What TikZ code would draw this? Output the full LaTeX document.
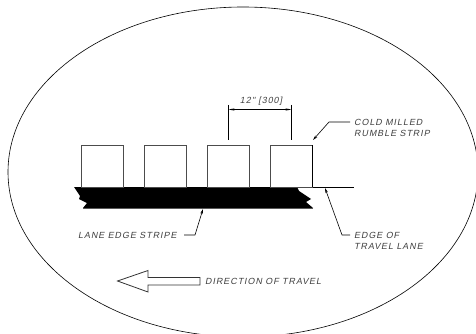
\documentclass[tikz,border=0pt]{standalone}
\usepackage{fontspec}
\newfontfamily\cadfont[FakeSlant=0.2,LetterSpace=11]{Liberation Sans}
\usetikzlibrary{arrows.meta}
\tikzset{
  line/.style={draw=black,line width=0.6pt},
  strip/.style={draw=black!70,line width=0.8pt,fill=white},
  lab/.style={font=\cadfont\fontsize{8.9}{11}\selectfont,text=black!75,inner sep=0pt,anchor=west,align=left},
  lead/.style={line,-{Stealth[length=5pt,width=2.6pt]}},
  dim/.style={line,{Stealth[length=6pt,width=2.2pt]}-{Stealth[length=6pt,width=2.2pt]}}
}
\begin{document}
\begin{tikzpicture}[x=1pt,y=-1pt]
\useasboundingbox (0,0) rectangle (476,334);
\begin{scope}
\clip (0,0) rectangle (476,334);
\draw[line] (243,172) ellipse [x radius=235, y radius=165];
\end{scope}
% stripe
\fill[black] (74,187) -- (297,187) -- (299,191) -- (311,199) -- (306,202) -- (313,208) -- (83,208) -- (87,203) -- (79,199) -- (80,196) -- cycle;
\draw[draw=black!65,line width=0.5pt] (83,208) -- (313,208);
% edge of lane
\draw[line] (301,187) -- (354,187);
% rumble strips
\node[strip,minimum width=42pt,minimum height=42pt,inner sep=0pt] (s1) at (102.5,166) {};
\node[strip,minimum width=42pt,minimum height=42pt,inner sep=0pt] (s2) at (165.5,166) {};
\node[strip,minimum width=42pt,minimum height=42pt,inner sep=0pt] (s3) at (228.5,166) {};
\node[strip,minimum width=42pt,minimum height=42pt,inner sep=0pt] (s4) at (291.5,166) {};
\draw[draw=black,line width=0.6pt] (312.5,145) -- (312.5,187);
% dimension
\coordinate (e1) at (228.5,105);
\coordinate (e2) at (291.5,105);
\coordinate (f1) at (228.5,139.5);
\coordinate (f2) at (291.5,139.5);
\coordinate (d1) at (228.5,109.5);
\coordinate (d2) at (291.5,109.5);
\draw[line] (e1) -- (f1);
\draw[line] (e2) -- (f2);
\draw[dim] (d1) -- (d2);
\node[lab,anchor=center] (dimtext) at (261,101) {12" [300]};
% labels
\node[lab] (cold) at (354,122) {COLD MILLED};
\node[lab] (rumble) at (354,133.5) {RUMBLE STRIP};
\node[lab] (lane) at (78,235) {LANE EDGE STRIPE};
\node[lab] (edge) at (354,235) {EDGE OF};
\node[lab] (travel) at (354,246.5) {TRAVEL LANE};
\node[lab] (dir) at (205,281) {DIRECTION OF TRAVEL};
% leaders
\coordinate (c0) at (350,122);
\coordinate (c1) at (329,122);
\coordinate (c2) at (313,140);
\coordinate (l0) at (184,235);
\coordinate (l1) at (195,235);
\coordinate (l2) at (203,209);
\coordinate (t0) at (350,235);
\coordinate (t1) at (342,235);
\coordinate (t2) at (325,188);
\draw[lead] (c0) -- (c1) -- (c2);
\draw[lead] (l0) -- (l1) -- (l2);
\draw[lead] (t0) -- (t1) -- (t2);
% direction arrow
\draw[draw=black!80,line width=0.8pt,fill=white] (117.5,281) -- (148,270.5) -- (148,277.5) -- (200,277.5) -- (200,285) -- (148,285) -- (148,292) -- cycle;
\end{tikzpicture}
\end{document}
